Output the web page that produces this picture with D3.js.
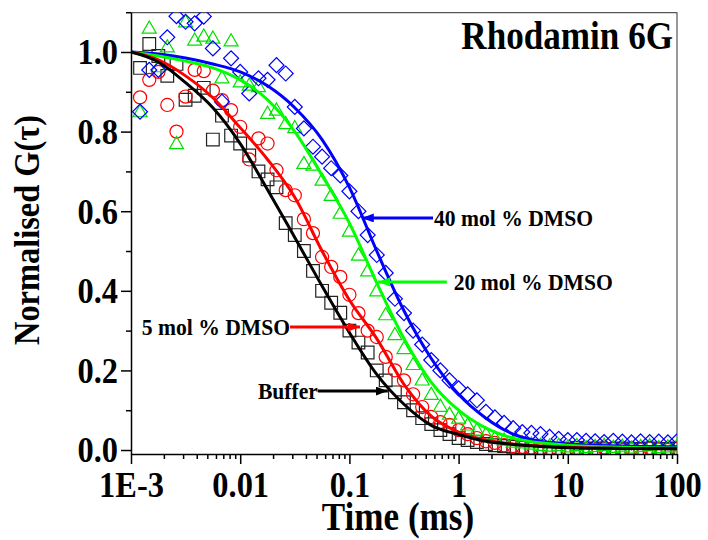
<!DOCTYPE html>
<html lang="en">
<head>
    <meta charset="UTF-8">
    <script type="text/javascript" src="https://cdn.jsdelivr.net/npm/d3@7/dist/d3.min.js"></script>
    <title>Rhodamin 6G</title>
    <style>
        body { margin: 0; background: #fff; }
        text { font-family: "Liberation Serif", "Times New Roman", serif; font-weight: bold; fill: #000; }
    </style>
</head>
<body>
</body>
<script>
    // lag times of the correlator (ms), shared by all four measurements
    var tau = [0.00121, 0.00147, 0.00178, 0.00215, 0.00261, 0.00316, 0.00383, 0.00464, 0.00562, 0.00681, 0.00825,
        0.0100, 0.0121, 0.0147, 0.0178, 0.0215, 0.0261, 0.0316, 0.0383, 0.0464, 0.0562, 0.0681, 0.0825,
        0.100, 0.121, 0.147, 0.178, 0.215, 0.261, 0.316, 0.383, 0.464, 0.562, 0.681, 0.825,
        1.00, 1.21, 1.47, 1.78, 2.15, 2.61, 3.16, 3.83, 4.64, 5.62, 6.81, 8.25,
        10.0, 12.1, 14.7, 17.8, 21.5, 26.1, 31.6, 38.3, 46.4, 56.2, 68.1, 82.5, 100];

    // measured normalised G(tau)
    var gBuffer = [0.96, 1.02, 0.99, 0.94, 0.97, 0.88, 0.89, 0.91, 0.78, 0.84, 0.79,
        0.77, 0.74, 0.70, 0.68, 0.66, 0.57, 0.54, 0.50, 0.45, 0.40, 0.37, 0.345,
        0.30, 0.27, 0.245, 0.20, 0.175, 0.145, 0.12, 0.10, 0.08, 0.065, 0.05, 0.04,
        0.03, 0.025, 0.02, 0.015, 0.012, 0.01, 0.008, 0.006, 0.004, 0.005, 0.003, 0.004,
        0.002, 0.005, 0.003, 0.004, 0.002, 0.003, 0.004, 0.002, 0.003, 0.004, 0.002, 0.003, 0.004];
    var g5 = [0.886, 0.93, 0.95, 0.867, 0.80, 0.888, 0.955, 0.952, 0.903, 0.879, 0.854,
        0.812, 0.73, 0.783, 0.77, 0.703, 0.653, 0.64, 0.58, 0.545, 0.485, 0.46, 0.435,
        0.39, 0.344, 0.30, 0.284, 0.234, 0.20, 0.175, 0.14, 0.108, 0.083, 0.07, 0.063,
        0.05, 0.04, 0.03, 0.022, 0.018, 0.012, 0.01, 0.008, 0.006, 0.004, 0.002, 0.0,
        0.003, 0.0, 0.004, 0.001, 0.006, 0.002, 0.0, 0.004, 0.001, 0.005, 0.002, 0.0, 0.003];
    var g20 = [0.85, 1.06, 0.963, 1.013, 0.77, 1.076, 1.03, 1.04, 1.035, 0.935, 1.028,
        0.925, 0.917, 0.913, 0.846, 0.854, 0.82, 0.81, 0.72, 0.716, 0.678, 0.64, 0.595,
        0.55, 0.49, 0.45, 0.40, 0.34, 0.29, 0.255, 0.215, 0.176, 0.14, 0.11, 0.09,
        0.08, 0.063, 0.05, 0.04, 0.03, 0.025, 0.02, 0.018, 0.015, 0.012, 0.01, 0.012,
        0.008, 0.011, 0.006, 0.009, 0.012, 0.007, 0.01, 0.005, 0.009, 0.011, 0.006, 0.008, 0.01];
    var g40 = [0.85, 0.955, 0.955, 1.037, 1.09, 1.076, 1.072, 1.089, 1.009, 0.875, 0.984,
        0.95, 0.896, 0.934, 0.93, 0.967, 0.946, 0.862, 0.808, 0.762, 0.737, 0.708, 0.69,
        0.65, 0.60, 0.54, 0.49, 0.445, 0.38, 0.344, 0.30, 0.265, 0.226, 0.20, 0.175,
        0.155, 0.14, 0.125, 0.096, 0.082, 0.068, 0.055, 0.045, 0.043, 0.04, 0.033, 0.028,
        0.025, 0.025, 0.023, 0.022, 0.02, 0.023, 0.021, 0.019, 0.022, 0.02, 0.021, 0.019, 0.022];

    // fitted curves, read at these lag times (ms)
    var fitTau = [0.001, 0.00178, 0.00316, 0.00562, 0.01, 0.0178, 0.0316, 0.0562, 0.1, 0.178,
        0.316, 0.562, 1, 1.78, 3.16, 5.62, 10, 31.6, 100];
    var fitBuffer = [1.0, 0.975, 0.923, 0.86, 0.77, 0.654, 0.534, 0.412, 0.295, 0.19,
        0.115, 0.062, 0.039, 0.022, 0.014, 0.009, 0.006, 0.004, 0.003];
    var fit5 = [1.0, 0.98, 0.94, 0.885, 0.81, 0.73, 0.635, 0.50, 0.377, 0.28,
        0.165, 0.085, 0.045, 0.025, 0.015, 0.01, 0.007, 0.004, 0.003];
    var fit20 = [1.0, 0.99, 0.977, 0.96, 0.93, 0.88, 0.80, 0.69, 0.57, 0.42,
        0.28, 0.17, 0.10, 0.055, 0.03, 0.018, 0.012, 0.007, 0.005];
    var fit40 = [1.0, 0.995, 0.985, 0.97, 0.95, 0.915, 0.86, 0.78, 0.66, 0.50,
        0.35, 0.23, 0.14, 0.08, 0.04, 0.022, 0.015, 0.01, 0.008];

    var xTicks = [0.001, 0.01, 0.1, 1, 10, 100];
    var xTickLabels = ["1E-3", "0.01", "0.1", "1", "10", "100"];
    var yTicks = [0, 0.2, 0.4, 0.6, 0.8, 1.0];
    var yMinorTicks = [0.1, 0.3, 0.5, 0.7, 0.9, 1.1];

    // annotations: label, arrow tip [tau, G], arrow tail [tau, G]
    var annoLabels = ["40 mol % DMSO", "20 mol % DMSO", "5 mol % DMSO", "Buffer"];
    var annoTip = [[0.130, 0.583], [0.183, 0.422], [0.125, 0.309], [0.225, 0.148]];
    var annoTail = [[0.583, 0.583], [0.78, 0.422], [0.0286, 0.309], [0.0515, 0.148]];

    var series = [
        {name: "Buffer", g: gBuffer, fit: fitBuffer, color: "#000000", mark: "#222222", shape: "square"},
        {name: "5", g: g5, fit: fit5, color: "#ff0000", mark: "#ff0000", shape: "circle"},
        {name: "20", g: g20, fit: fit20, color: "#00ff00", mark: "#00e000", shape: "triangle"},
        {name: "40", g: g40, fit: fit40, color: "#0000ff", mark: "#0000ff", shape: "diamond"}
    ];
    var annoColors = ["#0000ff", "#00ff00", "#ff0000", "#000000"];

    var W = 708, H = 540;
    var plotLeft = 131, plotRight = 677, plotTop = 12.2, plotBottom = 454;

    var x = d3.scaleLog().domain([0.001, 100]).range([plotLeft, plotRight]);
    var y = d3.scaleLinear().domain([-0.01, 1.1]).range([plotBottom, plotTop]);

    var svg = d3.select("body").append("svg")
        .attr("width", W)
        .attr("height", H);

    var defs = svg.append("defs");
    defs.append("clipPath").attr("id", "plotClip")
        .append("rect")
        .attr("x", plotLeft).attr("y", plotTop)
        .attr("width", plotRight - plotLeft).attr("height", plotBottom - plotTop);

    annoColors.forEach(function (c, i) {
        defs.append("marker")
            .attr("id", "arrow" + i)
            .attr("markerUnits", "userSpaceOnUse")
            .attr("markerWidth", 13).attr("markerHeight", 10)
            .attr("refX", 12).attr("refY", 4.5)
            .attr("orient", "auto")
            .append("path")
            .attr("d", "M0,0 L12,4.5 L0,9 Z")
            .attr("fill", c);
    });

    // frame (top / right)
    svg.append("line").attr("x1", plotLeft).attr("x2", plotRight).attr("y1", plotTop + 0.5).attr("y2", plotTop + 0.5)
        .attr("stroke", "#555").attr("stroke-width", 1.2);
    svg.append("line").attr("x1", plotRight).attr("x2", plotRight).attr("y1", plotTop).attr("y2", plotBottom)
        .attr("stroke", "#555").attr("stroke-width", 1.2);

    var plot = svg.append("g").attr("clip-path", "url(#plotClip)");

    var symbols = {
        square: d3.symbol().type(d3.symbolSquare).size(160),
        circle: d3.symbol().type(d3.symbolCircle).size(135),
        triangle: d3.symbol().type(d3.symbolTriangle).size(85),
        diamond: d3.symbol().type(d3.symbolSquare).size(112)
    };

    series.forEach(function (s) {
        plot.append("g").selectAll("path")
            .data(tau)
            .enter()
            .append("path")
            .attr("d", symbols[s.shape]())
            .attr("transform", function (d, i) {
                var t = "translate(" + x(d) + "," + y(s.g[i]) + ")";
                if (s.shape === "diamond") t += " rotate(45)";
                if (s.shape === "triangle") t += " translate(0,1)";
                return t;
            })
            .attr("fill", "none")
            .attr("stroke", s.mark)
            .attr("stroke-width", 1.2);
    });

    var line = d3.line()
        .x(function (d) { return x(d[0]); })
        .y(function (d) { return y(d[1]); })
        .curve(d3.curveMonotoneX);

    [3, 2, 1, 0].forEach(function (k) {
        var s = series[k];
        plot.append("path")
            .datum(fitTau.map(function (t, i) { return [t, s.fit[i]]; }))
            .attr("d", line)
            .attr("fill", "none")
            .attr("stroke", s.color)
            .attr("stroke-width", 3);
    });

    // axes
    var xAxis = svg.append("g")
        .attr("transform", "translate(0," + plotBottom + ")")
        .call(d3.axisBottom(x).tickValues(xTicks).tickSize(10).tickSizeOuter(0)
            .tickFormat(function (d, i) { return xTickLabels[i]; }));
    var xMinor = [];
    xTicks.slice(0, -1).forEach(function (t) {
        for (var m = 2; m <= 9; m++) xMinor.push(t * m);
    });
    svg.append("g")
        .attr("transform", "translate(0," + plotBottom + ")")
        .call(d3.axisBottom(x).tickValues(xMinor).tickSize(5).tickSizeOuter(0).tickFormat(""))
        .select(".domain").remove();

    var yAxis = svg.append("g")
        .attr("transform", "translate(" + plotLeft + ",0)")
        .call(d3.axisLeft(y).tickValues(yTicks).tickSize(10).tickSizeOuter(0).tickFormat(d3.format(".1f")));
    svg.append("g")
        .attr("transform", "translate(" + plotLeft + ",0)")
        .call(d3.axisLeft(y).tickValues(yMinorTicks).tickSize(5).tickSizeOuter(0).tickFormat(""))
        .select(".domain").remove();

    svg.selectAll(".domain, .tick line").attr("stroke", "#000").attr("stroke-width", 1.5);

    xAxis.selectAll("text")
        .attr("y", 17)
        .attr("font-size", 36)
        .attr("font-family", null);
    yAxis.selectAll("text")
        .attr("dy", "0.33em")
        .attr("font-size", 36)
        .attr("font-family", null);

    // axis titles and chart label
    svg.append("text")
        .attr("x", (plotLeft + plotRight) / 2 - 6)
        .attr("y", 530)
        .attr("text-anchor", "middle")
        .attr("font-size", 39)
        .text("Time (ms)");

    svg.append("text")
        .attr("transform", "translate(39,230) rotate(-90)")
        .attr("text-anchor", "middle")
        .attr("font-size", 36)
        .text("Normalised G(\u03c4)");

    svg.append("text")
        .attr("x", 673)
        .attr("y", 49)
        .attr("text-anchor", "end")
        .attr("font-size", 39)
        .text("Rhodamin 6G");

    // annotation arrows
    annoLabels.forEach(function (label, i) {
        var tip = annoTip[i], tail = annoTail[i];
        var x0 = x(tail[0]), y0 = y(tail[1]);
        svg.append("line")
            .attr("x1", x0).attr("y1", y0)
            .attr("x2", x(tip[0])).attr("y2", y(tip[1]))
            .attr("stroke", annoColors[i])
            .attr("stroke-width", 3)
            .attr("marker-end", "url(#arrow" + i + ")");
        var pointsLeft = x(tip[0]) < x0;
        svg.append("text")
            .attr("x", pointsLeft ? x0 + (i === 1 ? 7 : 1) : x0)
            .attr("y", y0)
            .attr("dy", "0.33em")
            .attr("text-anchor", pointsLeft ? "start" : "end")
            .attr("font-size", 24)
            .text(label);
    });

    // the original type is set slightly condensed
    svg.selectAll("text").each(function () {
        var len = this.getComputedTextLength();
        if (len > 0) {
            d3.select(this)
                .attr("textLength", len * 0.9)
                .attr("lengthAdjust", "spacingAndGlyphs");
        }
    });
</script>
</html>
